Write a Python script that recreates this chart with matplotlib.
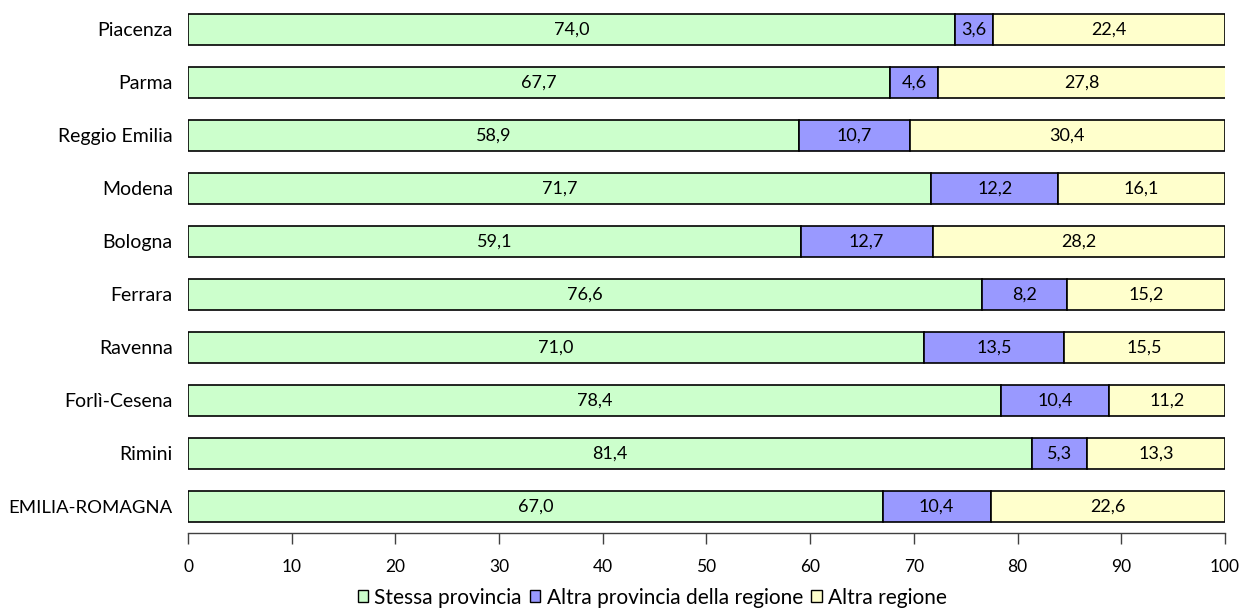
import matplotlib
matplotlib.use("Agg")
import matplotlib.pyplot as plt
from matplotlib.patches import Patch

plt.rcParams['font.family'] = ['Lato', 'DejaVu Sans']

categories = ["Piacenza", "Parma", "Reggio Emilia", "Modena", "Bologna", "Ferrara",
              "Ravenna", "Forlì-Cesena", "Rimini", "EMILIA-ROMAGNA"]
stessa = [74.0, 67.7, 58.9, 71.7, 59.1, 76.6, 71.0, 78.4, 81.4, 67.0]
altra_prov = [3.6, 4.6, 10.7, 12.2, 12.7, 8.2, 13.5, 10.4, 5.3, 10.4]
altra_reg = [22.4, 27.8, 30.4, 16.1, 28.2, 15.2, 15.5, 11.2, 13.3, 22.6]
series_names = ["Stessa provincia", "Altra provincia della regione", "Altra regione"]
colors = ["#CCFFCC", "#9999FF", "#FFFFCC"]
xticks = [0, 10, 20, 30, 40, 50, 60, 70, 80, 90, 100]

fig = plt.figure(figsize=(12.47, 6.08), dpi=100)
ax = fig.add_axes([0.1508, 0.1234, 0.8315, 0.872])

y = list(range(len(categories)))
left = [0.0] * len(categories)
for vals, col in zip([stessa, altra_prov, altra_reg], colors):
    ax.barh(y, vals, left=left, height=0.59, color=col, edgecolor="black", linewidth=1.2)
    for yi, l, v in zip(y, left, vals):
        ax.text(l + v / 2, yi, f"{v:.1f}".replace(".", ","), ha="center", va="center", fontsize=13)
    left = [a + b for a, b in zip(left, vals)]

ax.set_ylim(len(categories) - 0.5, -0.5)
ax.set_xlim(0, 100)
ax.set_yticks(y)
ax.set_yticklabels(categories, fontsize=14)
ax.set_xticks(xticks)
ax.set_xticklabels([str(t) for t in xticks], fontsize=12.5)
ax.tick_params(axis="y", length=0, pad=11)
ax.tick_params(axis="x", length=8, width=1, color="#404040", pad=11, direction="out")
for s in ["top", "right", "left"]:
    ax.spines[s].set_visible(False)
ax.spines["bottom"].set_color("#404040")
ax.spines["bottom"].set_linewidth(1)

# the all-caps label is rendered narrow in the original: fit it to ~163 px
fig.canvas.draw()
renderer = fig.canvas.get_renderer()
for tick in ax.yaxis.get_major_ticks():
    lab = tick.label1
    if lab.get_text().isupper():
        w = lab.get_window_extent(renderer).width
        lab.set_fontsize(14 * 163.0 / w)

handles = [Patch(facecolor=c, edgecolor="black", label=n) for c, n in zip(colors, series_names)]
fig.legend(handles=handles, loc="center", bbox_to_anchor=(0.523, 0.017), ncol=3, frameon=False,
           fontsize=15, handlelength=0.5, handleheight=0.5, handletextpad=0.3, columnspacing=0.4,
           borderaxespad=0)

fig.savefig("out.png", dpi=100)
